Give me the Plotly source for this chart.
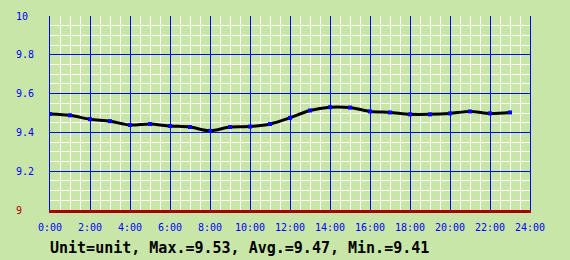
import plotly.graph_objects as go

hours = list(range(24))
values = [9.495, 9.488, 9.468, 9.458, 9.438, 9.443, 9.433, 9.428, 9.408, 9.428,
          9.430, 9.443, 9.475, 9.513, 9.530, 9.528, 9.508, 9.503, 9.493, 9.493,
          9.498, 9.508, 9.498, 9.503]
x_tick_vals = list(range(0, 25, 2))
x_tick_text = [f"{h}:00" for h in x_tick_vals]
y_tick_vals = [9, 9.2, 9.4, 9.6, 9.8, 10]
y_tick_text = ['<span style="color:#B00000">9</span>\u00a0\u00a0', "9.2", "9.4", "9.6", "9.8", "10\u00a0"]
title_text = "Unit=unit, Max.=9.53, Avg.=9.47, Min.=9.41"

x_minor = [i * 0.5 for i in range(49) if i % 4 != 0]
y_minor = [round(9 + i * 0.05, 2) for i in range(21) if i % 4 != 0]

BG = "#C8E6A8"
BLUE = "#0000FF"
FONT = "DejaVu Sans Mono"

fig = go.Figure()
fig.add_trace(go.Scatter(
    x=hours, y=values, mode="lines+markers",
    line=dict(color="black", width=3, shape="spline", smoothing=0.8),
    marker=dict(color="#0000FF", size=4, symbol="square", line=dict(width=0)),
    hoverinfo="skip",
))

fig.update_layout(
    width=570, height=260,
    margin=dict(l=50, r=40, t=10, b=50),
    paper_bgcolor=BG, plot_bgcolor=BG,
    showlegend=False,
    font=dict(family=FONT, size=10, color=BLUE),
    title=dict(text=title_text, x=50/570, xanchor="left", y=1-248/260, yanchor="middle",
               font=dict(family=FONT, size=15, color="black", weight="bold")),
    xaxis=dict(range=[0, 24], tickmode="array", tickvals=x_tick_vals, ticktext=x_tick_text,
               showgrid=True, gridcolor=BLUE, gridwidth=1, zeroline=False,
               showline=True, linecolor="#A80000", linewidth=3,
               ticks="", ticklabelstandoff=6,
               minor=dict(tickmode="array", tickvals=x_minor, showgrid=True,
                          gridcolor="white", gridwidth=1)),
    yaxis=dict(range=[9, 10], tickmode="array", tickvals=y_tick_vals, ticktext=y_tick_text,
               showgrid=True, gridcolor=BLUE, gridwidth=1, zeroline=False,
               showline=True, linecolor=BLUE, linewidth=1, mirror=True,
               ticks="", ticklabelstandoff=13,
               minor=dict(tickmode="array", tickvals=y_minor, showgrid=True,
                          gridcolor="white", gridwidth=1)),
)

fig.write_html("out.html")
